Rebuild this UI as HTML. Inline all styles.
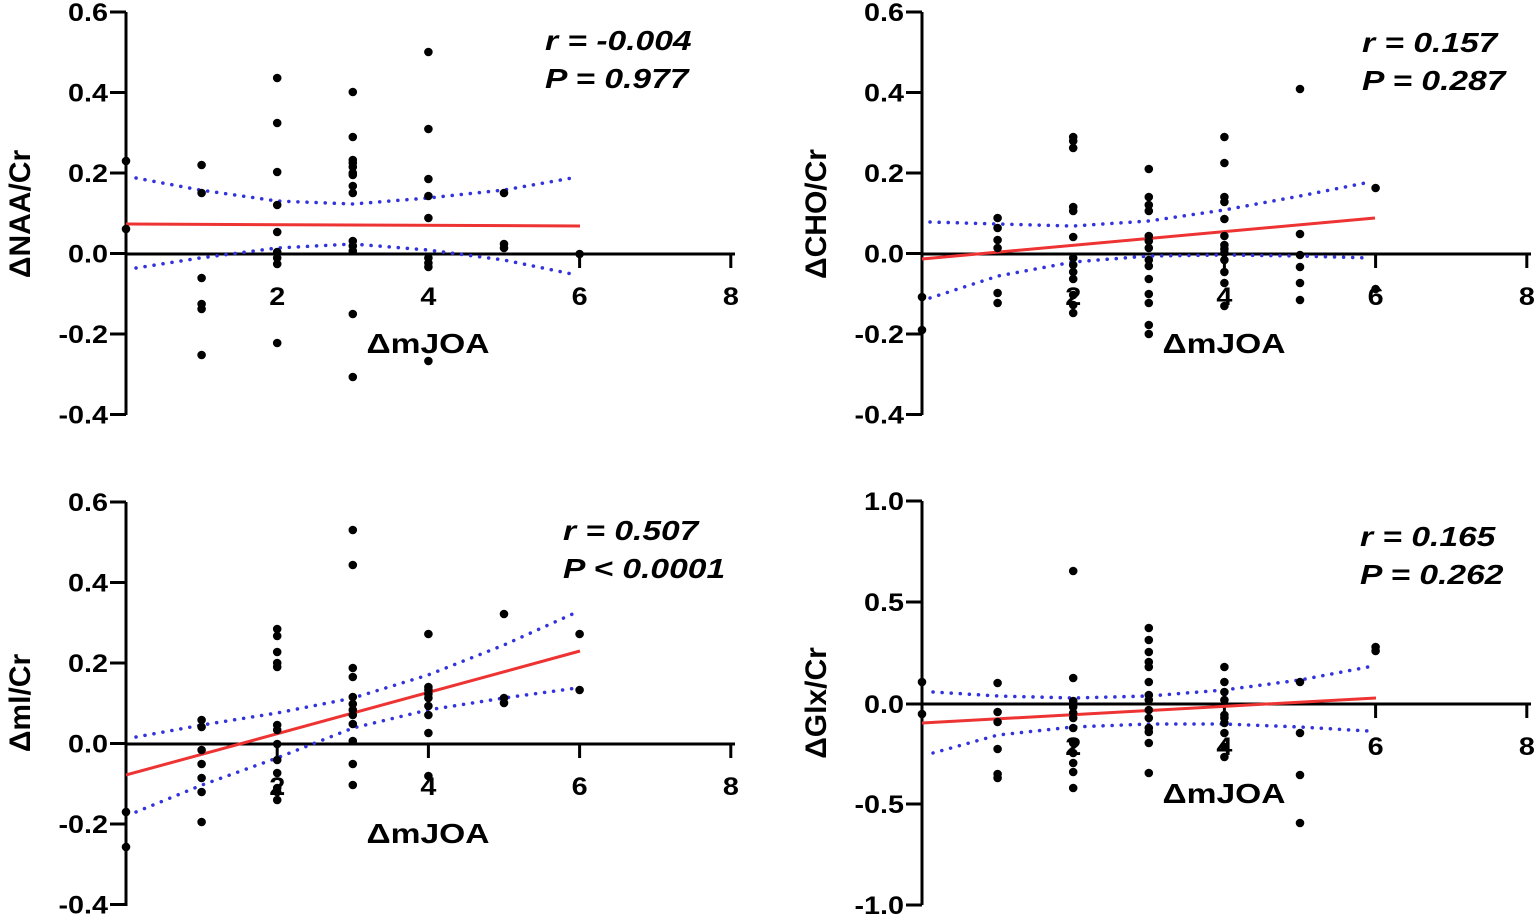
<!DOCTYPE html>
<html><head><meta charset="utf-8"><style>
html,body{margin:0;padding:0;background:#fff;}
svg{display:block;}
text{font-family:"Liberation Sans",Arial,sans-serif;font-weight:bold;fill:#000;}
</style></head><body>
<svg id="s" width="1535" height="918" xmlns="http://www.w3.org/2000/svg"></svg>
<script>
const s=document.getElementById('s');let h='';
function T(x,y,size,str,anchor,extra,sc){return `<g transform="translate(${x},${y}) scale(${sc||1.2},1)"><text x="0" y="0" font-size="${size}" text-anchor="${anchor}" ${extra||''}>${str}</text></g>`;}
function panel(o){
 const {x0,yTop,yBot,y0,ticks,xl,pts,red,up,lo,title,tx,ty,ann,ax,ay}=o;
 h+=`<line x1="${x0}" y1="${yTop}" x2="${x0}" y2="${yBot}" stroke="#000" stroke-width="3"/>`;
 ticks.forEach(t=>{h+=`<line x1="${x0-16}" y1="${t[1]}" x2="${x0}" y2="${t[1]}" stroke="#000" stroke-width="3"/>`;
  h+=T(x0-18,t[1]+9,25,t[0],'end','',1.15);});
 h+=`<line x1="${x0}" y1="${y0}" x2="${x0+609}" y2="${y0}" stroke="#000" stroke-width="3"/>`;
 [2,4,6,8].forEach(v=>{const x=x0+v*75.6;h+=`<line x1="${x}" y1="${y0}" x2="${x}" y2="${y0+14}" stroke="#000" stroke-width="3"/>`;
  h+=T(x,y0+51,25,v,'middle','',1.15);});
 h+=T(x0+302,xl,28,'ΔmJOA','middle');
 h+=`<polyline points="${up}" fill="none" stroke="#3333dd" stroke-width="3.5" stroke-dasharray="0.1 9" stroke-linecap="round"/>`;
 h+=`<polyline points="${lo}" fill="none" stroke="#3333dd" stroke-width="3.5" stroke-dasharray="0.1 9" stroke-linecap="round"/>`;
 h+=`<line x1="${red[0]}" y1="${red[1]}" x2="${red[2]}" y2="${red[3]}" stroke="#ee3333" stroke-width="3"/>`;
 pts.forEach((col,i)=>col.forEach(y=>{h+=`<circle cx="${x0+i*75.6}" cy="${y}" r="4.3" fill="#000"/>`;}));
 h+=`<text transform="translate(${tx},${ty}) rotate(-90)" font-size="30" text-anchor="middle">${title}</text>`;
 h+=T(ax,ay,28,ann[0],'start','font-style="italic"');
 h+=T(ax,ay+38,28,ann[1],'start','font-style="italic"');
}
const t06=(b)=>[["0.6",b],["0.4",b+80.5],["0.2",b+161],["0.0",b+241.5],["-0.2",b+322],["-0.4",b+402.5]];
panel({x0:126,yTop:12,yBot:415,y0:254,ticks:t06(12),xl:353,
 pts:[[161,229],[165,193,278,304,309,355],[78,123,172,205,232,252,258,264,343],[92,137,160,163,167,173,175,186,193,241,246,251,314,377],[52,129,179,196,218,258,263,267,361],[193,244,248],[254]],
 red:[126,224,580,226],up:"136,178 200,190 277,201 353,204 428,198 504,190 572,178",lo:"136,268 200,258 277,248 353,244 428,250 504,260 572,274",
 title:"ΔNAA/Cr",tx:30,ty:214,ann:["r = -0.004","P = 0.977"],ax:545,ay:50});
panel({x0:922,yTop:12,yBot:415,y0:254,ticks:t06(12),xl:353,
 pts:[[297,330],[218,228,240,248,293,303],[137,141,148,207,211,237,258,265,272,279,295,305,313],[169,197,205,211,236,241,248,260,266,279,294,303,325,334],[137,163,197,202,219,236,245,249,253,260,272,283,306],[89,234,255,267,283,300],[188,289]],
 red:[922,259,1375,218],up:"930,222 998,224 1073,226 1149,221 1224,210 1300,196 1370,182",lo:"930,298 998,276 1073,262 1149,256 1224,255 1300,256 1370,258",
 title:"ΔCHO/Cr",tx:826,ty:214,ann:["r = 0.157","P = 0.287"],ax:1362,ay:52});
panel({x0:126,yTop:502,yBot:906,y0:744,ticks:t06(502),xl:843,
 pts:[[812,847],[720,727,750,764,778,792,822],[629,636,652,663,667,725,730,744,760,773,788,792,800],[530,565,668,677,697,704,710,715,724,741,764,785],[634,687,690,694,698,706,715,733,776],[614,698,703],[634,690]],
 red:[126,775,580,651],up:"136,737 202,725 277,713 353,698 428,675 504,645 577,612",lo:"136,812 202,785 277,758 353,728 428,710 504,698 577,688",
 title:"Δml/Cr",tx:30,ty:703,ann:["r = 0.507","P &lt; 0.0001"],ax:563,ay:540});
panel({x0:922,yTop:501,yBot:905,y0:704,ticks:[["1.0",501],["0.5",602],["0.0",704],["-0.5",804],["-1.0",905]],xl:803,
 pts:[[682,714],[683,712,722,749,774,778],[571,678,701,707,713,718,728,743,753,763,772,788],[628,640,652,662,667,682,695,700,710,718,728,732,743,773],[667,682,692,700,715,718,723,733,747,757],[682,733,775,823],[647,651]],
 red:[922,723,1376,698],up:"933,692 998,696 1073,698 1149,696 1224,690 1300,680 1368,667",lo:"933,753 998,735 1073,727 1149,724 1224,724 1300,727 1368,731",
 title:"ΔGlx/Cr",tx:826,ty:703,ann:["r = 0.165","P = 0.262"],ax:1360,ay:546});
s.innerHTML=h;
</script>
</body></html>
